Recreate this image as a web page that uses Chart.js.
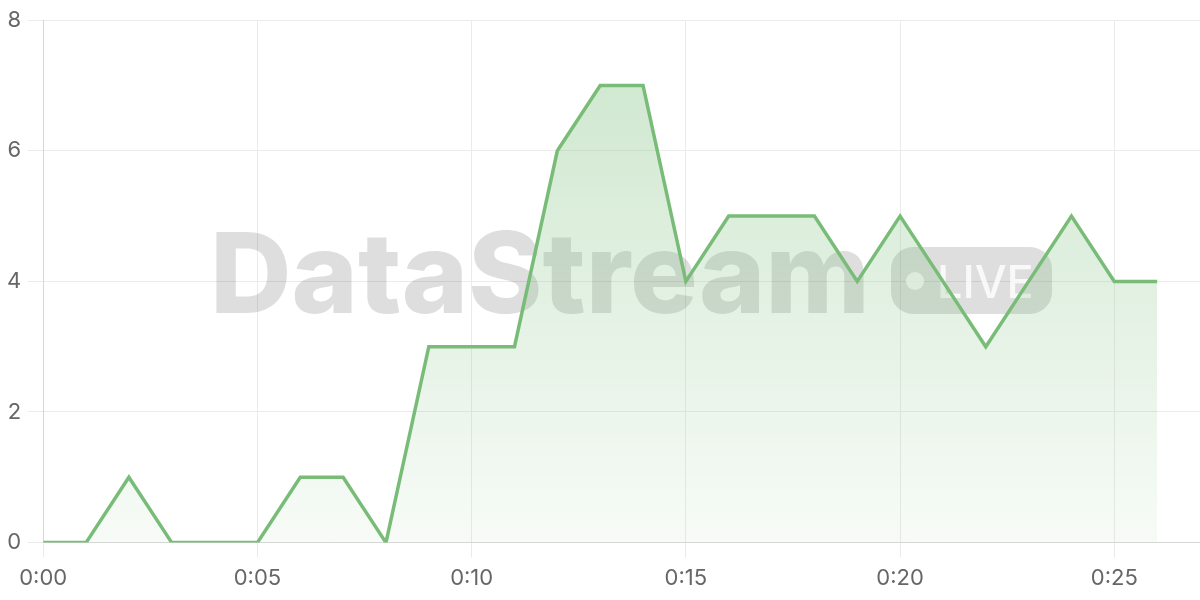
<!DOCTYPE html>
<html>
<head>
<meta charset="utf-8">
<title>DataStream live</title>
<script src="https://cdn.jsdelivr.net/npm/chart.js@4.4.1/dist/chart.umd.min.js"></script>
<style>
  html, body { margin: 0; padding: 0; background: #fff; }
  #wrap { width: 1200px; height: 600px; }
</style>
</head>
<body>
<div id="wrap"><canvas id="liveChart"></canvas></div>
<script>
// minutes since start, one reading per minute
const minutes = [0, 1, 2, 3, 4, 5, 6, 7, 8, 9, 10, 11, 12, 13, 14, 15, 16, 17, 18, 19, 20, 21, 22, 23, 24, 25, 26];
const counts = [0, 0, 1, 0, 0, 0, 1, 1, 0, 3, 3, 3, 6, 7, 7, 4, 5, 5, 5, 4, 5, 4, 3, 4, 5, 4, 4];
const xTicks = [0, 5, 10, 15, 20, 25];
const yTicks = [0, 2, 4, 6, 8];

const lineColor = "#78bc78";
const fontFamily = "Inter, 'Noto Sans', sans-serif";

function fmtMinute(m) {
  return "0:" + String(m).padStart(2, "0");
}

// faint brand mark behind the series
const watermark = {
  id: "watermark",
  beforeDatasetsDraw(chart) {
    const ctx = chart.ctx;
    ctx.save();
    ctx.fillStyle = "rgba(0, 0, 0, 0.13)";
    ctx.font = "800 112px " + fontFamily;
    ctx.textBaseline = "alphabetic";
    const txt = "DataStream";
    const tw = ctx.measureText(txt).width;
    // squeeze to the width the mark takes in the design
    ctx.translate(210, 313);
    ctx.scale(660 / tw, 1);
    ctx.fillText(txt, 0, 0);
    ctx.restore();

    ctx.save();
    ctx.fillStyle = "rgba(0, 0, 0, 0.13)";
    // LIVE pill
    const x = 891, y = 247, w = 161, h = 67, r = 22;
    ctx.beginPath();
    ctx.roundRect(x, y, w, h, r);
    ctx.fill();
    ctx.fillStyle = "rgba(255, 255, 255, 0.8)";
    ctx.beginPath();
    ctx.arc(915, 281, 9, 0, Math.PI * 2);
    ctx.fill();
    ctx.font = "500 45px " + fontFamily;
    ctx.fillText("LIVE", 937, 298);
    ctx.restore();
  },
};

const ctx = document.getElementById("liveChart").getContext("2d");

new Chart(ctx, {
  type: "line",
  data: {
    datasets: [
      {
        data: minutes.map((m, i) => ({ x: m, y: counts[i] })),
        borderColor: lineColor,
        borderWidth: 3.5,
        pointRadius: 0,
        tension: 0,
        fill: "origin",
        backgroundColor: (c) => {
          const area = c.chart.chartArea;
          if (!area) return "rgba(120,188,120,0.2)";
          const g = c.chart.ctx.createLinearGradient(0, area.top, 0, area.bottom);
          g.addColorStop(0, "rgba(120,188,120,0.38)");
          g.addColorStop(1, "rgba(120,188,120,0.06)");
          return g;
        },
      },
    ],
  },
  options: {
    responsive: true,
    maintainAspectRatio: false,
    animation: false,
    layout: { padding: { left: 0, top: 11, right: 0, bottom: 0 } },
    plugins: {
      legend: { display: false },
      tooltip: { enabled: false },
    },
    scales: {
      x: {
        type: "linear",
        min: 0,
        max: 27,
        afterBuildTicks: (axis) => {
          axis.ticks = xTicks.map((v) => ({ value: v }));
        },
        grid: { color: "#ebebeb", tickLength: 15 },
        border: { color: "#d6d6d6" },
        ticks: {
          color: "#666",
          padding: 8,
          maxRotation: 0,
          font: { family: fontFamily, size: 22 },
          callback: (v) => fmtMinute(v),
        },
      },
      y: {
        min: 0,
        max: 8,
        afterBuildTicks: (axis) => {
          axis.ticks = yTicks.map((v) => ({ value: v }));
        },
        grid: { color: "#ebebeb", tickLength: 15 },
        border: { color: "#d6d6d6" },
        ticks: {
          color: "#666",
          padding: 7,
          font: { family: fontFamily, size: 22 },
        },
      },
    },
  },
  plugins: [watermark],
});
</script>
</body>
</html>
